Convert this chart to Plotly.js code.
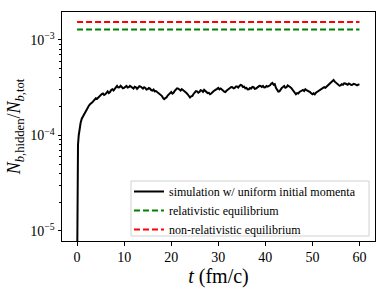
<!DOCTYPE html>
<html>
<head>
<meta charset="utf-8">
<script src="https://cdn.plot.ly/plotly-3.0.1.min.js"></script>
<style>html,body{margin:0;padding:0;background:#fff;}#chart{width:387px;height:290px;}</style>
</head>
<body>
<div id="chart"></div>
<script>
// time in fm/c
const simT = [0,0.1,0.2,0.35,0.5,0.75,1,1.25,1.5,1.75,2,2.25,2.5,2.75,3,3.25,3.5,3.75,4,4.25,4.5,4.75,
5,5.25,5.5,5.75,6,6.25,6.5,6.75,7,7.25,7.5,7.75,8,8.25,8.5,8.75,9,9.25,9.5,9.75,
10,10.25,10.5,10.75,11,11.25,11.5,11.75,12,12.25,12.5,12.75,13,13.25,13.5,13.75,14,14.25,14.5,14.75,
15,15.25,15.5,15.75,16,16.25,16.5,16.75,17,17.25,17.5,17.75,18,18.25,18.5,18.75,19,19.25,19.5,19.75,
20,20.25,20.5,20.75,21,21.25,21.5,21.75,22,22.25,22.5,22.75,23,23.25,23.5,23.75,24,24.25,24.5,24.75,
25,25.25,25.5,25.75,26,26.25,26.5,26.75,27,27.25,27.5,27.75,28,28.25,28.5,28.75,29,29.25,29.5,29.75,
30,30.25,30.5,30.75,31,31.25,31.5,31.75,32,32.25,32.5,32.75,33,33.25,33.5,33.75,34,34.25,34.5,34.75,
35,35.25,35.5,35.75,36,36.25,36.5,36.75,37,37.25,37.5,37.75,38,38.25,38.5,38.75,39,39.25,39.5,39.75,
40,40.25,40.5,40.75,41,41.25,41.5,41.75,42,42.25,42.5,42.75,43,43.25,43.5,43.75,44,44.25,44.5,44.75,
45,45.25,45.5,45.75,46,46.25,46.5,46.75,47,47.25,47.5,47.75,48,48.25,48.5,48.75,49,49.25,49.5,49.75,
50,50.25,50.5,50.75,51,51.25,51.5,51.75,52,52.25,52.5,52.75,53,53.25,53.5,53.75,54,54.25,54.5,54.75,
55,55.25,55.5,55.75,56,56.25,56.5,56.75,57,57.25,57.5,57.75,58,58.25,58.5,58.75,59,59.25,59.5,59.75,60];
// N_b,hidden / N_b,tot in units of 1e-4
const simV_1e4 = [0.03,0.55,0.8,1.0,1.15,1.35,1.5,1.58,1.7,1.76,1.9,1.95,2.05,2.12,2.2,2.22,2.3,2.38,2.45,2.42,2.5,2.56,
2.60,2.72,2.75,2.66,2.70,2.84,2.90,2.78,2.85,3.00,3.05,2.96,3.10,3.22,3.30,3.18,3.20,3.32,3.25,3.12,
3.15,3.26,3.30,3.17,3.20,3.31,3.25,3.14,3.10,3.24,3.20,3.08,3.15,3.28,3.25,3.13,3.10,3.20,3.15,3.02,
3.05,3.14,3.10,2.98,2.95,3.03,2.90,2.92,2.85,2.80,2.75,2.66,2.60,2.48,2.40,2.46,2.50,2.62,2.70,2.80,
2.85,2.74,2.80,2.93,3.00,3.12,3.10,2.98,2.95,3.06,3.00,2.90,2.85,2.78,2.70,2.58,2.50,2.57,2.60,2.72,
2.80,2.92,2.90,2.80,2.85,2.98,2.95,2.86,3.00,2.94,2.90,2.78,2.80,2.70,2.75,2.85,2.90,2.97,3.00,3.08,
3.15,3.04,3.10,2.98,2.95,2.88,2.85,2.94,3.00,3.08,3.10,3.22,3.20,3.12,3.15,3.26,3.25,3.18,3.30,3.38,
3.35,3.22,3.25,3.12,3.15,3.03,3.05,3.14,3.10,3.22,3.20,3.08,3.10,3.18,3.20,3.31,3.30,3.22,3.30,3.18,
3.20,3.30,3.25,3.30,3.35,3.48,3.55,3.40,3.45,3.15,3.00,2.88,2.90,3.05,3.15,3.22,3.30,3.16,3.20,3.34,
3.30,3.22,3.15,3.05,2.95,2.80,2.70,2.78,2.75,2.86,2.90,2.98,3.00,2.92,3.05,2.98,2.95,2.88,2.85,2.76,
2.70,2.76,2.70,2.80,2.85,2.92,2.95,3.06,3.05,3.14,3.20,3.16,3.25,3.32,3.40,3.52,3.60,3.72,3.80,3.66,
3.55,3.46,3.40,3.32,3.35,3.44,3.40,3.52,3.50,3.42,3.40,3.50,3.45,3.38,3.40,3.48,3.45,3.36,3.35,3.42,3.40];
const eqT = [0, 60];
const relEq = [1.29e-3, 1.29e-3];
const nonRelEq = [1.54e-3, 1.54e-3];
const xTicks = [0,10,20,30,40,50,60];
const yTicks = [1e-5,1e-4,1e-3];
const yTickText = ['10<sup>−5</sup>','10<sup>−4</sup>','10<sup>−3</sup>'];
const yMinor = [];
[1e-5,1e-4,1e-3].forEach(d=>{for(let k=2;k<=9;k++) yMinor.push(k*d);});

const simV = simV_1e4.map(v => v * 1e-4);
const serif = "'Liberation Serif', 'Liberation Sans', serif";
const traces = [
  {x: simT, y: simV, mode:'lines', name:'simulation w/ uniform initial momenta', line:{color:'#000', width:2}},
  {x: eqT, y: relEq, mode:'lines', name:'relativistic equilibrium', line:{color:'#008000', width:2, dash:'6px,3px'}},
  {x: eqT, y: nonRelEq, mode:'lines', name:'non-relativistic equilibrium', line:{color:'#ff0000', width:2, dash:'6px,3px'}}
];
const layout = {
  width:387, height:290,
  margin:{l:62, r:12, t:12, b:49},
  paper_bgcolor:'#fff', plot_bgcolor:'#fff',
  font:{family:serif, color:'#000', size:13},
  showlegend:true,
  legend:{x:0.214, y:0.2795, xanchor:'left', yanchor:'top', bgcolor:'rgba(0,0,0,0)', borderwidth:0, font:{family:serif, size:12}, tracegroupgap:0, itemwidth:30},
  shapes:[{type:'rect', xref:'paper', yref:'paper', x0:0.2204, x1:0.981, y0:0.0218, y1:0.262, fillcolor:'rgba(255,255,255,0.8)', line:{color:'#d0d0d0', width:1}, layer:'above'}],
  xaxis:{range:[-3.2,63.3], tickvals:xTicks, ticks:'outside', ticklen:3.5, tickcolor:'#000', showline:true, linecolor:'#000', linewidth:1, mirror:true, showgrid:false, zeroline:false, tickfont:{family:serif, size:14},
    title:{text:'<i>t</i> (fm/c)', font:{family:serif, size:20}, standoff:0}},
  yaxis:{type:'log', range:[-5.105,-2.707], tickvals:yTicks, ticktext:yTickText, ticks:'outside', ticklen:3.5, tickcolor:'#000', showline:true, linecolor:'#000', linewidth:1, mirror:true, showgrid:false, zeroline:false, tickfont:{family:serif, size:14},
    minor:{tickvals:yMinor, ticks:'outside', ticklen:2, tickcolor:'#000', showgrid:false},
    title:{text:'<i>N</i><sub><i>b</i>,hidden</sub>/<i>N</i><sub><i>b</i>,tot</sub>', font:{family:serif, size:18}, standoff:4}}
};
Plotly.newPlot('chart', traces, layout, {displayModeBar:false, staticPlot:true});
</script>
</body>
</html>
